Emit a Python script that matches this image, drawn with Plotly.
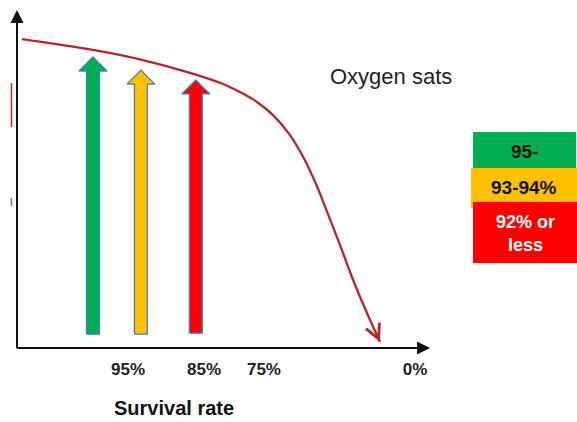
import plotly.graph_objects as go

W, H = 577, 422

# Survival curve (x: position along the survival axis, y: height), 0-100 scale
curve_x = [1.2, 18.4, 30.5, 41.9, 49.9, 54.0, 58.1, 62.0, 66.1, 69.3, 72.4, 75.3, 78.2, 81.1, 84.5, 87.9]
curve_y = [91.4, 88.2, 85.2, 81.4, 78.1, 75.7, 72.8, 68.9, 63.0, 56.5, 48.5, 39.6, 30.5, 21.0, 11.0, 1.8]

# Oxygen-saturation band arrows
band_names = ["95-", "93-94%", "92% or<br>less"]
band_colors = ["#00b050", "#ffc000", "#ff0000"]
band_text_colors = ["#111111", "#111111", "#ffffff"]
arrow_x = [18.4, 30.0, 43.3]
arrow_tip = [86.1, 82.2, 79.3]
arrow_base = [4.1, 4.1, 4.4]

# Survival-rate tick labels
tick_pos = [26.9, 45.3, 59.8, 96.4]
tick_text = ["95%", "85%", "75%", "0%"]

FONT = "Arial, Liberation Sans"
fig = go.Figure()

# block arrows
SW, HW, HH = 1.57, 3.39, 4.14
for cx, ty, by, col in zip(arrow_x, arrow_tip, arrow_base, band_colors):
    xs = [cx - SW, cx - SW, cx - HW, cx, cx + HW, cx + SW, cx + SW, cx - SW]
    ys = [by, ty - HH, ty - HH, ty, ty - HH, ty - HH, by, by]
    fig.add_trace(go.Scatter(x=xs, y=ys, mode="lines", fill="toself",
                             fillcolor=col, line=dict(color="#3f7fc4", width=1.3),
                             hoverinfo="skip", showlegend=False))

# survival curve
fig.add_trace(go.Scatter(x=curve_x, y=curve_y, mode="lines",
                         line=dict(color="#b5262c", width=2.3, shape="spline", smoothing=1.0),
                         hoverinfo="skip", showlegend=False))

annotations = []
# arrowhead at the end of the curve
annotations.append(dict(x=curve_x[-1], y=curve_y[-1],
                        ax=curve_x[-2] + 0.6 * (curve_x[-1] - curve_x[-2]),
                        ay=curve_y[-2] + 0.6 * (curve_y[-1] - curve_y[-2]),
                        xref="x", yref="y", axref="x", ayref="y", text="", showarrow=True,
                        arrowhead=5, arrowsize=1.6, arrowwidth=1.8, arrowcolor="#b5262c"))
# axes with arrowheads
annotations.append(dict(x=0, y=100, ax=0, ay=-0.5, xref="x", yref="y", axref="x", ayref="y",
                        text="", showarrow=True, arrowhead=2, arrowsize=1.3, arrowwidth=2,
                        arrowcolor="#111111"))
annotations.append(dict(x=100, y=0, ax=-0.3, ay=0, xref="x", yref="y", axref="x", ayref="y",
                        text="", showarrow=True, arrowhead=2, arrowsize=1.3, arrowwidth=2,
                        arrowcolor="#111111"))

annotations.append(dict(x=391 / W, y=1 - 77 / H, xref="paper", yref="paper", text="Oxygen sats",
                        xanchor="center", yanchor="middle", showarrow=False,
                        font=dict(family=FONT, size=22, color="#222222")))
annotations.append(dict(x=174 / W, y=1 - 408 / H, xref="paper", yref="paper",
                        text="<b>Survival rate</b>", xanchor="center", yanchor="middle",
                        showarrow=False, borderpad=0,
                        font=dict(family=FONT, size=20, color="#111111")))

# colour key boxes
shapes = []
boxes = [(473, 576, 132, 168), (471, 577, 168, 208), (473, 577, 202, 263)]
text_y = [152, 188, 233]
text_size = [19, 19, 18]
for (x0, x1, y0, y1), col, name, tc, ty, ts in zip(boxes, band_colors, band_names,
                                                     band_text_colors, text_y, text_size):
    shapes.append(dict(type="rect", xref="paper", yref="paper", x0=x0 / W, x1=x1 / W,
                       y0=1 - y1 / H, y1=1 - y0 / H, fillcolor=col, line=dict(width=0)))
    annotations.append(dict(x=(x0 + x1) / 2 / W, y=1 - ty / H, xref="paper", yref="paper",
                            text=f"<b>{name}</b>", xanchor="center", yanchor="middle",
                            showarrow=False, font=dict(family=FONT, size=ts, color=tc)))

# small marks beside the vertical axis
shapes.append(dict(type="line", xref="paper", yref="paper", x0=11.5 / W, x1=11.5 / W,
                   y0=1 - 127 / H, y1=1 - 83 / H, line=dict(color="#e8141c", width=1.5)))
shapes.append(dict(type="line", xref="paper", yref="paper", x0=11.5 / W, x1=11.5 / W,
                   y0=1 - 206 / H, y1=1 - 198 / H, line=dict(color="#777777", width=1.5)))

fig.update_layout(
    width=W, height=H, margin=dict(l=0, r=0, t=0, b=0),
    paper_bgcolor="white", plot_bgcolor="white",
    xaxis=dict(domain=[17 / W, 430 / W], range=[0, 100], showgrid=False, zeroline=False,
               showline=False, tickmode="array", tickvals=tick_pos,
               ticktext=[f"<b>{t}</b>" for t in tick_text], ticks="outside", ticklen=6,
               tickcolor="rgba(0,0,0,0)",
               tickfont=dict(family=FONT, size=17, color="#222222")),
    yaxis=dict(domain=[74 / H, 412 / H], range=[0, 100], showgrid=False, zeroline=False,
               showline=False, showticklabels=False, ticks=""),
    shapes=shapes, annotations=annotations, showlegend=False,
)

fig.write_html("out.html")
